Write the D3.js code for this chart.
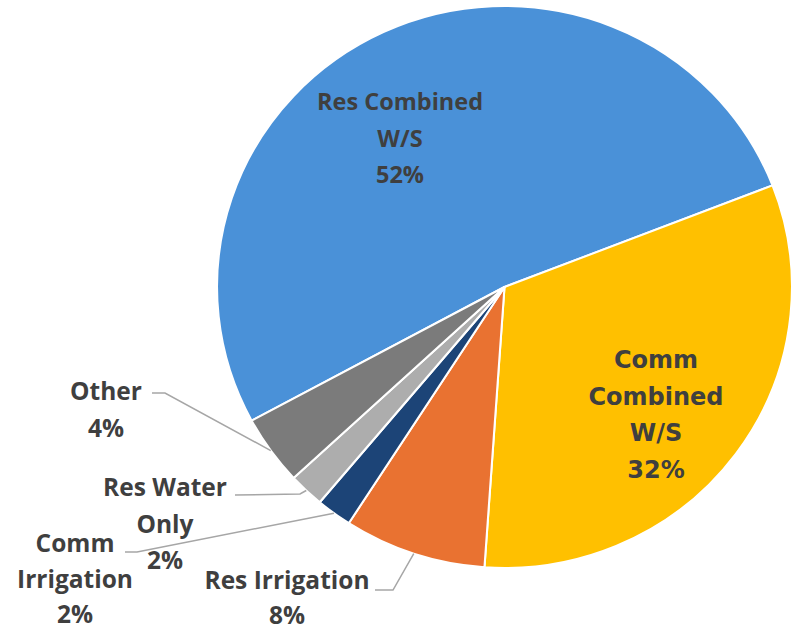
<!DOCTYPE html>
<html>
<head>
<meta charset="utf-8">
<script src="https://cdn.jsdelivr.net/npm/d3@7"></script>
<style>
  html, body { margin: 0; padding: 0; background: #ffffff; }
  svg { display: block; }
</style>
</head>
<body>
<svg id="chart" width="798" height="631"></svg>
<script>
// ---- data ----
const categories = ["Res Combined W/S", "Comm Combined W/S", "Res Irrigation", "Comm Irrigation", "Res Water Only", "Other"];
const values = [52, 32, 8, 2, 2, 4];
const percentLabels = ["52%", "32%", "8%", "2%", "2%", "4%"];
const colors = ["#4A91D8", "#FFC000", "#E97231", "#1C4477", "#ADADAD", "#7B7B7B"];

// ---- label layout (lines of each label, placement) ----
const labelLines = [
  ["Res Combined", "W/S", "52%"],
  ["Comm", "Combined", "W/S", "32%"],
  ["Res Irrigation", "8%"],
  ["Comm", "Irrigation", "2%"],
  ["Res Water", "Only", "2%"],
  ["Other", "4%"]
];
const openSans = "'Open Sans', 'Liberation Sans', sans-serif";
const labelLayout = [
  { x: 400, y: 110, gap: 36.7, font: openSans, size: 23.5, leader: null },
  { x: 656, y: 368, gap: 36.7, font: "'DejaVu Sans', sans-serif", size: 24, leader: null },
  { x: 287, y: 589, gap: 35, font: openSans, size: 24.5, leader: [[375, 590], [393, 590]] },
  { x: 75,  y: 552, gap: 35.5, font: openSans, size: 24.5, leader: [[125, 552], [137, 552]] },
  { x: 165, y: 496, gap: 36.7, font: openSans, size: 24.5, leader: [[235, 495], [300, 494]] },
  { x: 106, y: 400, gap: 36.7, font: openSans, size: 24.5, leader: [[152, 393], [165, 393]] }
];

const W = 798, H = 631;
const cx = 504.5, cy = 287, R = 281, sx = 1.023;

const svg = d3.select("#chart");

const pie = d3.pie()
  .sort(null)
  .value(d => d)
  .startAngle(-118.4 * Math.PI / 180)
  .endAngle((360 - 118.4) * Math.PI / 180);

const arcs = pie(values);
const arc = d3.arc().innerRadius(0).outerRadius(R);

const g = svg.append("g").attr("transform", `translate(${cx},${cy}) scale(${sx},1)`);
g.selectAll("path")
  .data(arcs)
  .join("path")
  .attr("d", arc)
  .attr("fill", (d, i) => colors[i])
  .attr("stroke", "#ffffff")
  .attr("stroke-width", 2)
  .attr("stroke-linejoin", "round");

// leader lines: from label elbow to slice outer midpoint
function outerMid(d) {
  const a = (d.startAngle + d.endAngle) / 2;
  return [cx + sx * R * Math.sin(a), cy - R * Math.cos(a)];
}

const leaders = svg.append("g");
arcs.forEach((d, i) => {
  const L = labelLayout[i];
  if (!L.leader) return;
  const pts = L.leader.concat([outerMid(d)]);
  leaders.append("path")
    .attr("d", d3.line()(pts))
    .attr("fill", "none")
    .attr("stroke", "#A6A6A6")
    .attr("stroke-width", 1.5);
});

// labels
const labels = svg.append("g");
labelLines.forEach((lines, i) => {
  const L = labelLayout[i];
  const t = labels.append("text")
    .attr("text-anchor", "middle")
    .attr("font-family", L.font)
    .attr("font-weight", "bold")
    .attr("font-size", L.size)
    .attr("fill", "#3F3F3F");
  lines.forEach((s, k) => {
    t.append("tspan")
      .attr("x", L.x)
      .attr("y", L.y + k * L.gap)
      .text(s);
  });
});
</script>
</body>
</html>
